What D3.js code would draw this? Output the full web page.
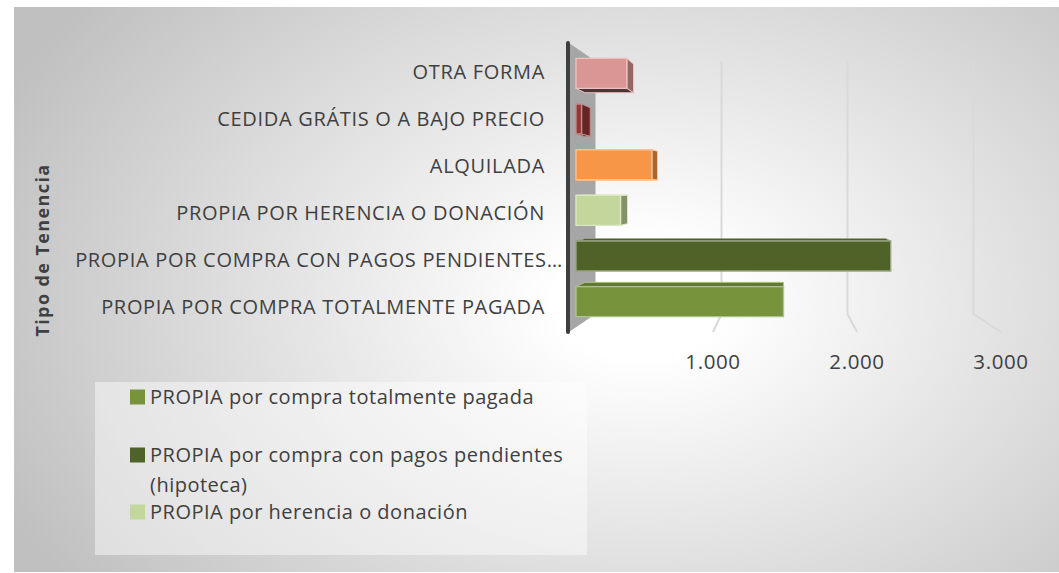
<!DOCTYPE html>
<html>
<head>
<meta charset="utf-8">
<script src="https://cdn.jsdelivr.net/npm/d3@7"></script>
<style>
html,body{margin:0;padding:0;background:#fff;}
svg{display:block;}
text{font-family:"Open Sans",sans-serif;fill:#404040;}
</style>
</head>
<body>
<svg id="chart" width="1059" height="573"></svg>
<script>
// ---- data ----
const categories = [
  "PROPIA POR COMPRA TOTALMENTE PAGADA",
  "PROPIA POR COMPRA CON PAGOS PENDIENTES (HIPOTECA)",
  "PROPIA POR HERENCIA O DONACIÓN",
  "ALQUILADA",
  "CEDIDA GRÁTIS O A BAJO PRECIO",
  "OTRA FORMA"
];
const values = [1490, 2260, 320, 545, 40, 365];
const barColors = ["#77933C", "#4F6228", "#C3D69B", "#F79646", "#953735", "#D99694"];
const tickValues = [1000, 2000, 3000];
const tickLabels = ["1.000", "2.000", "3.000"];
const legendLabels = [
  ["PROPIA por compra totalmente pagada"],
  ["PROPIA por compra con pagos pendientes", "(hipoteca)"],
  ["PROPIA por herencia o donación"]
];
const axisTitle = "Tipo de Tenencia";

// ---- layout ----
const svg = d3.select("#chart");
const defs = svg.append("defs");
const grad = defs.append("radialGradient").attr("id","bg")
  .attr("gradientUnits","userSpaceOnUse")
  .attr("cx",640).attr("cy",300).attr("r",700)
  .attr("gradientTransform","translate(640,300) scale(1,0.69) translate(-640,-300)");
grad.append("stop").attr("offset",0).attr("stop-color","#ffffff");
grad.append("stop").attr("offset",0.12).attr("stop-color","#ffffff");
grad.append("stop").attr("offset",1).attr("stop-color","#c0c0c0");

svg.append("rect").attr("x",14).attr("y",7).attr("width",1045).attr("height",565).attr("fill","url(#bg)");

const x = d3.scaleLinear().domain([0,3000]).range([569,1001]);
const y = d3.scaleBand().domain(categories.slice().reverse()).range([43,332]).paddingInner(0.343).paddingOuter(0.233);
const cx = 781, cy = 188, depth = 0.125;
const P = (v, yy, z) => { const s = 1 - depth*z; return [cx + (x(v)-cx)*s, cy + (yy-cy)*s]; };
const poly = pts => "M" + pts.map(p => p.join(",")).join("L") + "Z";

// wall
svg.append("path").attr("d", poly([P(0,43,0),P(0,43,1),P(0,332,1),P(0,332,0)])).attr("fill","#a6a6a6");

// gridlines
tickValues.forEach(v => {
  const a = P(v,43,1), b = P(v,332,1), c = P(v,332,0);
  svg.append("path").attr("d",`M${a}L${b}L${c}`).attr("fill","none").attr("stroke","#d9d9d9").attr("stroke-width",2);
});

// wall front edge
svg.append("line").attr("x1",x(0)-1).attr("x2",x(0)-1).attr("y1",43).attr("y2",332)
  .attr("stroke","#3f3f3f").attr("stroke-width",4).attr("stroke-linecap","round");

// bars
const z0 = 0.264, z1 = 0.6;
categories.forEach((c,i) => {
  const v = values[i], col = d3.color(barColors[i]);
  const y0 = y(c), y1 = y(c) + y.bandwidth();
  const stroke = d3.interpolateRgb(barColors[i], "#ffffff")(0.42);
  const g = svg.append("g");
  const shade = (k) => d3.rgb(col.r*k, col.g*k, col.b*k).toString();
  if (x(v) < cx) g.append("path").attr("d", poly([P(v,y0,z0),P(v,y0,z1),P(v,y1,z1),P(v,y1,z0)])).attr("fill",shade(0.68)).attr("stroke",stroke).attr("stroke-width",1);
  if (y0 > cy) g.append("path").attr("d", poly([P(0,y0,z0),P(v,y0,z0),P(v,y0,z1),P(0,y0,z1)])).attr("fill",shade(0.82)).attr("stroke",stroke).attr("stroke-width",1);
  if (y1 < cy) g.append("path").attr("d", poly([P(0,y1,z0),P(v,y1,z0),P(v,y1,z1),P(0,y1,z1)])).attr("fill",shade(0.35)).attr("stroke",stroke).attr("stroke-width",1);
  g.append("path").attr("d", poly([P(0,y0,z0),P(v,y0,z0),P(v,y1,z0),P(0,y1,z0)])).attr("fill",barColors[i]).attr("stroke",stroke).attr("stroke-width",1.4);
});

// category labels
const maxChars = 38;
categories.forEach(c => {
  const long = c.length > maxChars;
  const label = long ? c.slice(0, maxChars).trimEnd() + "…" : c;
  svg.append("text").attr("x", long ? 563 : 545).attr("y", y(c) + y.bandwidth()/2 + 2)
    .attr("dy","0.35em").attr("text-anchor","end")
    .style("font-size","20px").style("letter-spacing","0.68px").text(label);
});

// tick labels
tickValues.forEach((v,i) => {
  svg.append("text").attr("x", x(v)).attr("y", 362).attr("dy","0.35em").attr("text-anchor","middle")
    .style("font-size","20.5px").style("letter-spacing","0.6px").text(tickLabels[i]);
});

// axis title
svg.append("text").attr("transform","translate(43,250) rotate(-90)").attr("text-anchor","middle").attr("dy","0.35em")
  .style("font-size","18px").style("font-weight","bold").style("letter-spacing","1.4px").text(axisTitle);

// legend
svg.append("rect").attr("x",95).attr("y",382).attr("width",492).attr("height",173).attr("fill","#ffffff").attr("fill-opacity",0.45);
const rowY = [397, 455, 512];
legendLabels.forEach((lines,i) => {
  svg.append("rect").attr("x",130).attr("y",rowY[i]-7.5).attr("width",15).attr("height",15).attr("fill",barColors[i]);
  lines.forEach((t,j) => {
    svg.append("text").attr("x",150).attr("y",rowY[i] + j*30).attr("dy","0.35em")
      .style("font-size","20px").style("letter-spacing","0.5px").text(t);
  });
});
</script>
</body>
</html>
